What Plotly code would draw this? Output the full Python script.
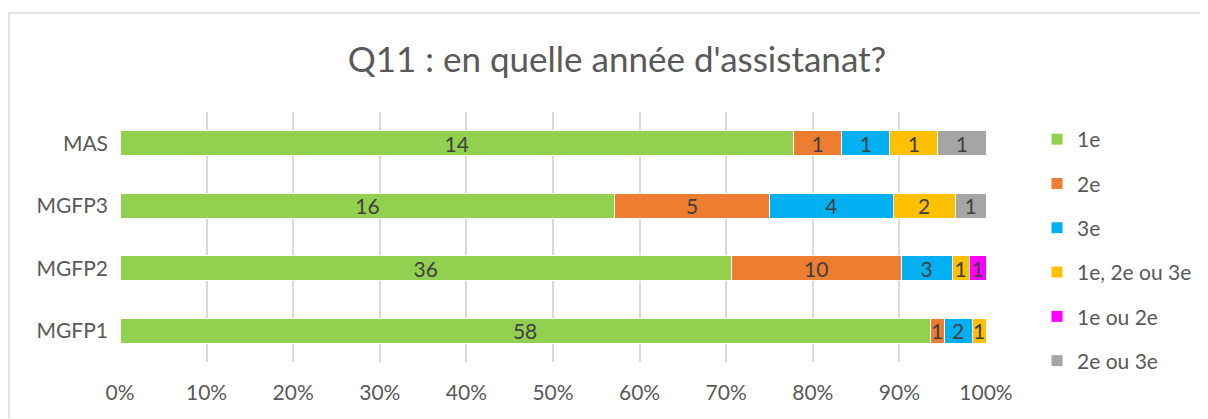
import plotly.graph_objects as go

categories = ["MGFP1", "MGFP2", "MGFP3", "MAS"]
series_names = ["1e", "2e", "3e", "1e, 2e ou 3e", "1e ou 2e", "2e ou 3e"]
s_1e = [58, 36, 16, 14]
s_2e = [1, 10, 5, 1]
s_3e = [2, 3, 4, 1]
s_123 = [1, 1, 2, 1]
s_12 = [0, 1, 0, 0]
s_23 = [0, 0, 1, 1]
colors = ["#92D050", "#ED7D31", "#00B0F0", "#FFC000", "#FF00FF", "#A5A5A5"]
tick_vals = [0, 0.1, 0.2, 0.3, 0.4, 0.5, 0.6, 0.7, 0.8, 0.9, 1.0]
tick_text = ["0%", "10%", "20%", "30%", "40%", "50%", "60%", "70%", "80%", "90%", "100%"]

all_series = [s_1e, s_2e, s_3e, s_123, s_12, s_23]
totals = [sum(s[i] for s in all_series) for i in range(len(categories))]

FONT = "Lato, 'Open Sans', sans-serif"
fig = go.Figure()
for name, vals, col in zip(series_names, all_series, colors):
    x = [v / t if v else None for v, t in zip(vals, totals)]
    txt = [str(v) if v else "" for v in vals]
    fig.add_trace(go.Bar(
        y=categories, x=x, name=name, orientation="h",
        marker=dict(color=col, line=dict(color="white", width=1)),
        text=txt, textposition="inside", insidetextanchor="middle", textangle=0,
        textfont=dict(size=21, color="#404040", family=FONT),
        constraintext="none",
        legendgroup=name, hoverinfo="skip", cliponaxis=False,
    ))

W, H = 1192, 410
L, T = 112, 104
pw, ph = 866, 250
R, B = W - L - pw, H - T - ph
fig.update_layout(
    barmode="stack", bargap=0.6,
    width=W, height=H,
    margin=dict(l=L, r=R, t=T, b=B),
    paper_bgcolor="white", plot_bgcolor="white",
    font=dict(family=FONT, color="#595959", size=21),
    title=dict(text="Q11 : en quelle année d'assistanat?", x=609 / W, xanchor="center",
               y=1 - 52 / H, yanchor="middle", font=dict(size=35, color="#595959")),
    xaxis=dict(range=[0, 1], tickvals=tick_vals, ticktext=tick_text, showgrid=True,
               gridcolor="#D9D9D9", gridwidth=1.5, zeroline=False, showline=False,
               ticks="", tickfont=dict(size=21, color="#595959"), ticklabelstandoff=16,
               fixedrange=True),
    yaxis=dict(range=[-0.5, 3.5], showgrid=False, zeroline=False, showline=False,
               ticks="", ticklabelstandoff=11, tickfont=dict(size=21, color="#595959")),
    legend=dict(xref="container", yref="container",
                x=1029 / W, xanchor="left", y=1 - 111 / H, yanchor="top",
                tracegroupgap=14, font=dict(size=21, color="#595959"),
                traceorder="grouped", itemwidth=30, maxheight=400),
    showlegend=True,
    shapes=[dict(type="rect", xref="paper", yref="paper",
                 x0=(1 - L) / pw, x1=(W + 50 - L) / pw,
                 y0=-(B + 50) / ph, y1=1 + (T - 5) / ph,
                 line=dict(color="#D9D9D9", width=1.5), fillcolor="rgba(0,0,0,0)", layer="below")],
)
fig.write_html("out.html")
